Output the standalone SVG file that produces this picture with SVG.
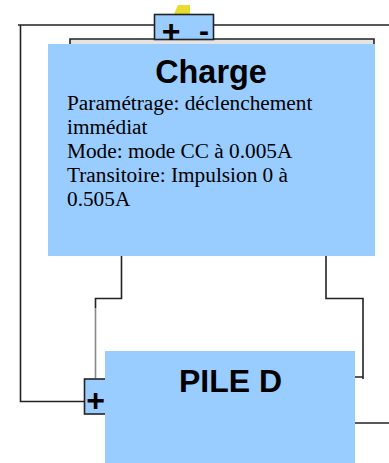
<svg xmlns="http://www.w3.org/2000/svg" width="389" height="463" viewBox="0 0 389 463">
<style>
.w{fill:none;stroke:#222;stroke-width:1.6}
.b{fill:#99ccff}
.t{fill:#99ccff;stroke:#222;stroke-width:1.6}
.h{font-family:"Liberation Sans",Arial,sans-serif;font-weight:700;fill:#000}
.p{font-family:"Liberation Serif","Times New Roman",serif;font-size:21.300px;fill:#000}
</style>
<rect width="389" height="463" fill="#fff"/>
<g id="connectors">
<path class="w" d="M18 25H155M214 25H389"/>
<path class="w" d="M20.500 25V401.500H84"/>
<path d="M70 39H374V50H70Z" fill="#e3e3e3" stroke="#222" stroke-width="1.600"/>
<path class="w" d="M121.500 255V298.500H95.500V308"/>
<path d="M95.500 308V378" fill="none" stroke="#888" stroke-width="1.600"/>
<path class="w" d="M326 255V298.500H363V379"/>
<path class="w" d="M354 377H363M354 423H389"/>
</g>
<g id="battery-top">
<path d="M178 5L190 5L190 14H174Z" fill="#e8dc30"/>
<rect class="t" x="154.500" y="14.500" width="59" height="25"/>
<text class="h" x="171" y="42" font-size="32" text-anchor="middle">+</text>
<text class="h" x="204" y="41" font-size="30" text-anchor="middle">-</text>
</g>
<g id="charge">
<rect class="b" x="48" y="44" width="327" height="212"/>
<text class="h" x="211" y="83" font-size="32.400" text-anchor="middle">Charge</text>
<text class="p" x="67" y="110">Paramétrage: déclenchement</text>
<text class="p" x="67" y="134">immédiat</text>
<text class="p" x="67" y="158">Mode: mode CC à 0.005A</text>
<text class="p" x="67" y="182">Transitoire: Impulsion 0 à</text>
<text class="p" x="67" y="206">0.505A</text>
</g>
<g id="battery-left">
<rect class="t" x="84.500" y="379" width="24" height="35"/>
<text class="h" x="95.500" y="411" font-size="32" text-anchor="middle">+</text>
</g>
<g id="pile-d">
<rect class="b" x="105" y="351" width="250" height="112"/>
<text class="h" x="230.500" y="392" font-size="32" text-anchor="middle">PILE D</text>
</g>
</svg>
